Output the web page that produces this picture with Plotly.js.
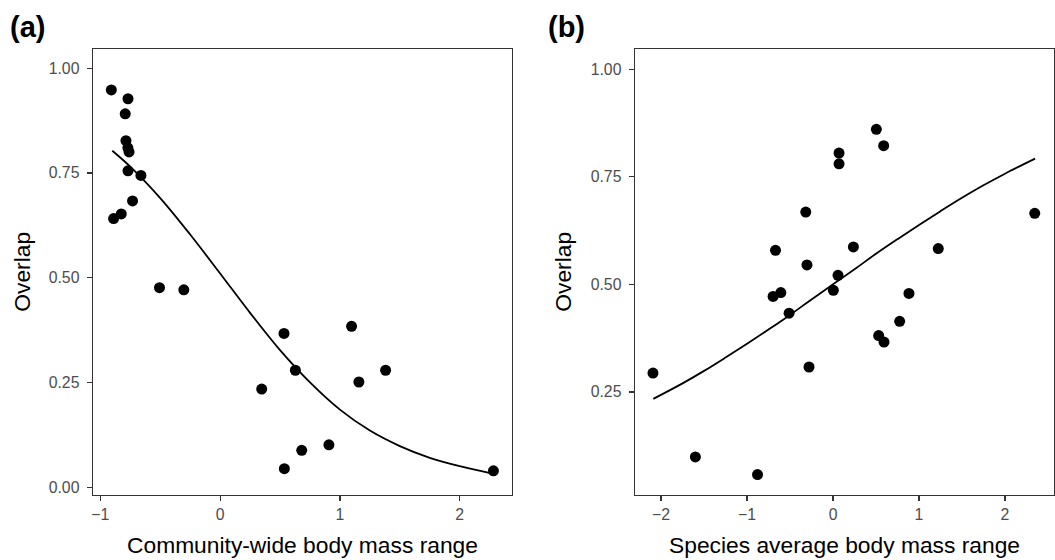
<!DOCTYPE html>
<html>
<head>
<meta charset="utf-8">
<script src="https://cdn.plot.ly/plotly-3.0.1.min.js"></script>
<style>html,body{margin:0;padding:0;background:#fff;}#chart{width:1055px;height:560px;}</style>
</head>
<body>
<div id="chart"></div>
<script>
// Panel (a): community-wide body mass range vs overlap
const aX = [-0.908, -0.769, -0.792, -0.786, -0.770, -0.760, -0.769, -0.661, -0.731, -0.889, -0.825,
            -0.506, -0.303, 0.533, 1.097, 0.628, 1.381, 1.158, 0.347, 0.908, 0.681, 0.536, 2.281];
const aY = [0.948, 0.927, 0.891, 0.827, 0.810, 0.800, 0.755, 0.744, 0.683, 0.641, 0.652,
            0.476, 0.471, 0.367, 0.384, 0.279, 0.279, 0.251, 0.234, 0.101, 0.088, 0.044, 0.039];
// fitted curve (a)
const aFitX = [-0.90, -0.75, -0.50, -0.25, 0.00, 0.25, 0.50, 0.75, 1.00, 1.25, 1.50, 1.75, 2.00, 2.28];
const aFitY = [0.803, 0.765, 0.690, 0.603, 0.510, 0.416, 0.327, 0.250, 0.185, 0.135, 0.098, 0.070, 0.050, 0.032];

// Panel (b): species average body mass range vs overlap
const bX = [0.504, 0.589, 0.070, 0.070, -0.317, 2.346, -0.669, 0.237, 1.224, -0.303, 0.058,
            -0.697, -0.607, 0.004, 0.883, -0.511, 0.775, 0.531, 0.593, -0.279, -2.094, -1.601, -0.878];
const bY = [0.860, 0.822, 0.805, 0.780, 0.668, 0.665, 0.579, 0.587, 0.583, 0.545, 0.521,
            0.472, 0.481, 0.486, 0.479, 0.433, 0.414, 0.381, 0.366, 0.308, 0.294, 0.099, 0.058];
// fitted curve (b)
const bFitX = [-2.09, -1.75, -1.50, -1.25, -1.00, -0.75, -0.50, -0.25, 0.00, 0.25, 0.50, 0.75, 1.00, 1.25, 1.50, 1.75, 2.00, 2.35];
const bFitY = [0.234, 0.270, 0.299, 0.330, 0.362, 0.395, 0.429, 0.465, 0.500, 0.535, 0.571, 0.605, 0.638, 0.670, 0.701, 0.730, 0.757, 0.792];

// tick labels
const aXTicks = [-1, 0, 1, 2];
const aYTicks = [0, 0.25, 0.5, 0.75, 1];
const bXTicks = [-2, -1, 0, 1, 2];
const bYTicks = [0.25, 0.5, 0.75, 1];
const fmt = v => v.toFixed(2);

const FONT = '"Liberation Sans", Arial, Helvetica, sans-serif';
const W = 1055, H = 560;

const traces = [
  {x: aFitX, y: aFitY, mode: 'lines', line: {color: '#000', width: 1.8, shape: 'spline'}, xaxis: 'x', yaxis: 'y', hoverinfo: 'skip'},
  {x: aX, y: aY, mode: 'markers', marker: {color: '#000', size: 11}, xaxis: 'x', yaxis: 'y'},
  {x: bFitX, y: bFitY, mode: 'lines', line: {color: '#000', width: 1.8, shape: 'spline'}, xaxis: 'x2', yaxis: 'y2', hoverinfo: 'skip'},
  {x: bX, y: bY, mode: 'markers', marker: {color: '#000', size: 11}, xaxis: 'x2', yaxis: 'y2'}
];

const axBase = {
  showgrid: false, zeroline: false, showline: true, mirror: true,
  linecolor: '#333', linewidth: 1.4,
  ticks: 'outside', ticklen: 5, tickwidth: 1.2, tickcolor: '#333',
  tickfont: {family: FONT, size: 15.8, color: '#4d4d4d'}
};

const yDom = [1 - 494.5 / H, 1 - 49.3 / H];

const layout = {
  width: W, height: H,
  margin: {l: 0, r: 0, t: 0, b: 0},
  paper_bgcolor: '#fff', plot_bgcolor: '#fff',
  showlegend: false,
  font: {family: FONT},
  xaxis: Object.assign({}, axBase, {domain: [93 / W, 512 / W], range: [-1.061, 2.436], tickvals: aXTicks, anchor: 'y'}),
  yaxis: Object.assign({}, axBase, {domain: yDom, range: [-0.0175, 1.045], tickvals: aYTicks, ticktext: aYTicks.map(fmt), anchor: 'x', ticklabelstandoff: 4}),
  xaxis2: Object.assign({}, axBase, {domain: [635 / W, 1054 / W], range: [-2.303, 2.57], tickvals: bXTicks, anchor: 'y2'}),
  yaxis2: Object.assign({}, axBase, {domain: yDom, range: [0.0118, 1.046], tickvals: bYTicks, ticktext: bYTicks.map(fmt), anchor: 'x2', ticklabelstandoff: 4}),
  annotations: [
    {text: '<b>(a)</b>', xref: 'paper', yref: 'paper', x: 8 / W, y: 1 - 27 / H, xanchor: 'left', yanchor: 'middle', showarrow: false, font: {family: FONT, size: 29, color: '#000'}},
    {text: '<b>(b)</b>', xref: 'paper', yref: 'paper', x: 546 / W, y: 1 - 27 / H, xanchor: 'left', yanchor: 'middle', showarrow: false, font: {family: FONT, size: 29, color: '#000'}},
    {text: 'Community-wide body mass range', xref: 'paper', yref: 'paper', x: 302.5 / W, y: 1 - 545 / H, xanchor: 'center', yanchor: 'middle', showarrow: false, font: {family: FONT, size: 22.8, color: '#000'}},
    {text: 'Species average body mass range', xref: 'paper', yref: 'paper', x: 844.5 / W, y: 1 - 545 / H, xanchor: 'center', yanchor: 'middle', showarrow: false, font: {family: FONT, size: 22.8, color: '#000'}},
    {text: 'Overlap', xref: 'paper', yref: 'paper', x: 22 / W, y: 1 - 271.7 / H, xanchor: 'center', yanchor: 'middle', textangle: -90, showarrow: false, font: {family: FONT, size: 22.8, color: '#000'}},
    {text: 'Overlap', xref: 'paper', yref: 'paper', x: 563 / W, y: 1 - 271.7 / H, xanchor: 'center', yanchor: 'middle', textangle: -90, showarrow: false, font: {family: FONT, size: 22.8, color: '#000'}}
  ]
};

Plotly.newPlot('chart', traces, layout, {staticPlot: true, displayModeBar: false});
</script>
</body>
</html>
